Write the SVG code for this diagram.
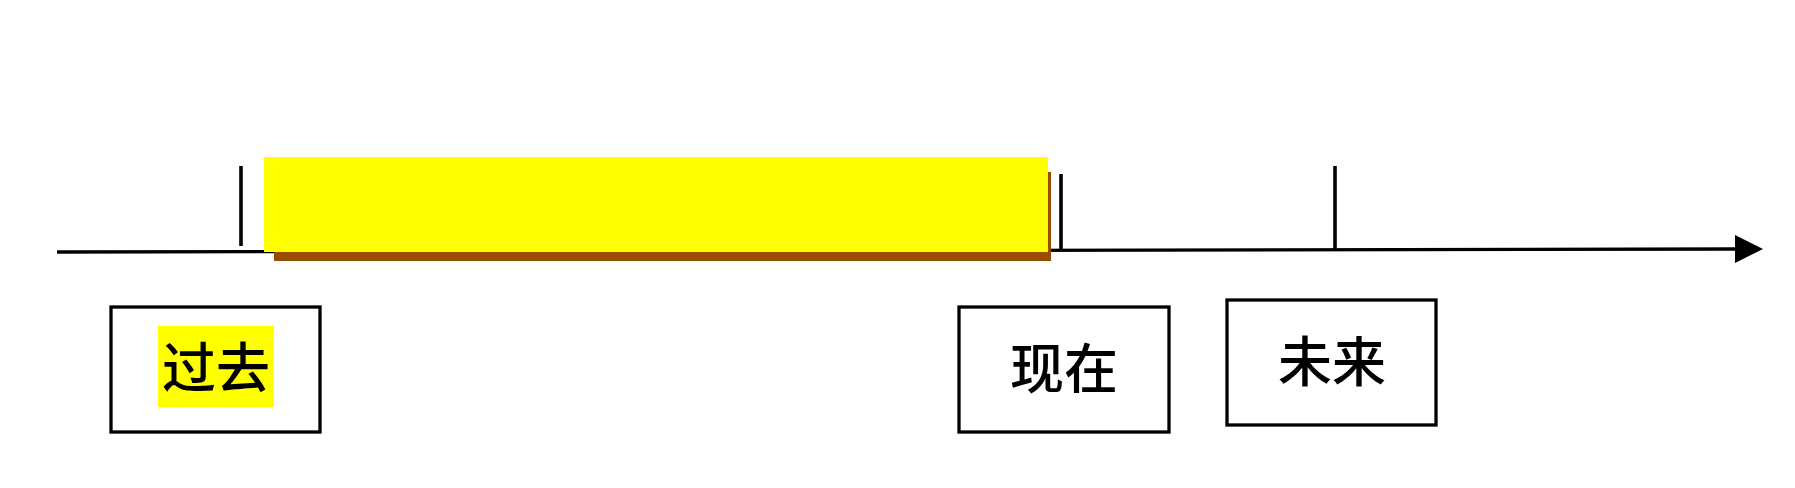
<svg xmlns="http://www.w3.org/2000/svg" width="1795" height="488" viewBox="0 0 1795 488">
  <style>
    .box { fill: #ffffff; stroke: #000000; stroke-width: 3.3; }
    .lbl { font-family: "Noto Sans CJK SC", "Noto Sans CJK TC", sans-serif; font-size: 54px; font-weight: 500; fill: #000000; text-anchor: middle; }
    .axis { stroke: #000000; stroke-width: 3.3; fill: none; }
    .tick { stroke: #000000; stroke-width: 3.6; fill: none; }
  </style>
  <defs>
    <marker id="arrow" markerUnits="userSpaceOnUse" markerWidth="30" markerHeight="28" refX="0" refY="14" orient="auto">
      <path d="M0,0 L28,14 L0,28 Z" fill="#000000"/>
    </marker>
  </defs>
  <rect width="1795" height="488" fill="#ffffff"/>
  <g id="connectors">
    <line class="axis" x1="57" y1="252" x2="1735" y2="249" marker-end="url(#arrow)"/>
    <line class="tick" x1="241" y1="166" x2="241" y2="246"/>
    <line class="tick" x1="1061" y1="174" x2="1061" y2="250"/>
    <line class="tick" x1="1335" y1="166" x2="1335" y2="249"/>
  </g>
  <g id="period-bar">
    <rect x="274" y="172" width="777" height="89" fill="#994C00"/>
    <rect x="264" y="157" width="784" height="95" fill="#ffff00"/>
  </g>
  <g id="node-past">
    <rect class="box" x="111" y="307" width="209" height="125"/>
    <rect x="158" y="326" width="116" height="81" fill="#ffff00"/>
    <text class="lbl" x="216" y="388">过去</text>
  </g>
  <g id="node-now">
    <rect class="box" x="959" y="307" width="210" height="125"/>
    <text class="lbl" x="1064" y="389">现在</text>
  </g>
  <g id="node-future">
    <rect class="box" x="1227" y="300" width="209" height="125"/>
    <text class="lbl" x="1332" y="382">未来</text>
  </g>
</svg>
